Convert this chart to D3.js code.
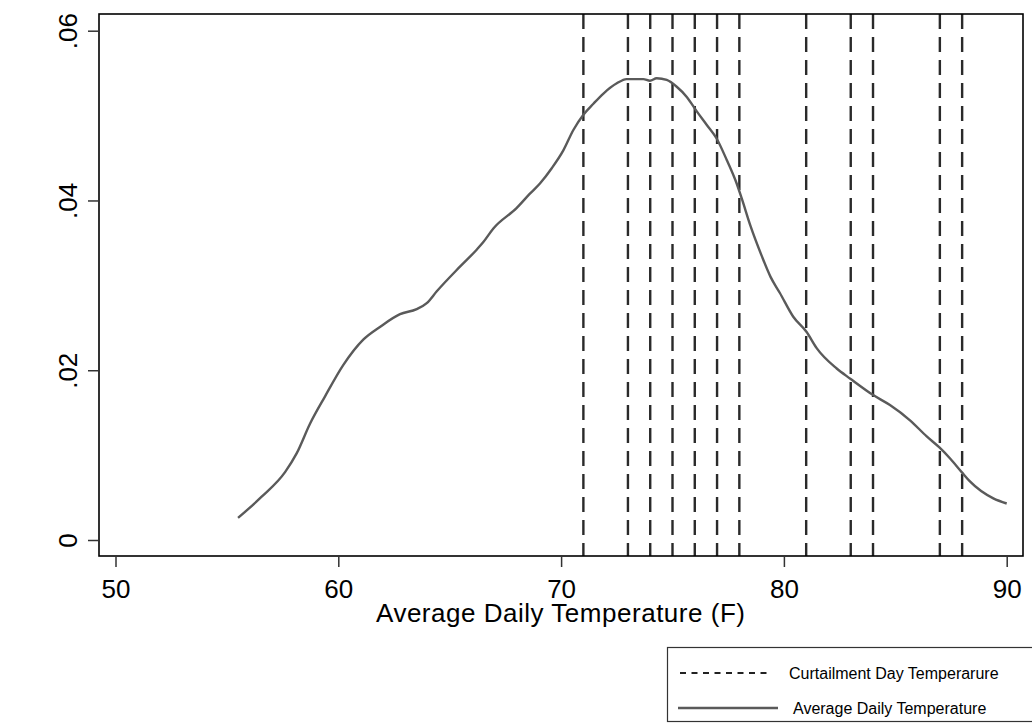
<!DOCTYPE html>
<html>
<head>
<meta charset="utf-8">
<script src="https://cdn.jsdelivr.net/npm/d3@7"></script>
<style>
  body { margin: 0; background: #fff; }
  svg { display: block; font-family: "Liberation Sans", Arial, sans-serif; }
</style>
</head>
<body>
<svg id="chart" width="1032" height="723"></svg>
<script>
// kernel density of average daily temperature
var temps = [55.5, 56.56, 57.61, 58.13, 58.73, 59.4, 60.22, 61.12, 61.87, 62.77, 63.52, 63.97, 64.42,
  65.46, 66.21, 66.51, 66.96, 68.0, 68.6, 69.05, 69.58, 70.1, 70.55, 71.0, 71.45, 71.9, 72.5, 72.94, 73.69,
  73.99, 74.29, 74.74, 75.19, 75.64, 76.09, 76.54, 76.98, 77.43, 77.88, 78.1, 78.5, 79.0, 79.4,
  79.82, 80.42, 81.02, 81.47, 82.37, 82.98, 83.99, 84.76, 85.66, 86.41, 86.98, 87.46, 87.98,
  88.35, 89.4, 90.0];
var density = [0.0026, 0.0051, 0.0080, 0.0102, 0.0137, 0.0169, 0.0206, 0.0236, 0.0251, 0.0266, 0.0272, 0.0279, 0.0293,
  0.0322, 0.0342, 0.0351, 0.0367, 0.0391, 0.0408, 0.0420, 0.0438, 0.0459, 0.0483, 0.0501, 0.0514, 0.0526, 0.0538, 0.0543, 0.0543,
  0.0541, 0.0544, 0.0542, 0.0534, 0.0522, 0.0505, 0.0489, 0.0473, 0.0448, 0.0420, 0.0403, 0.0370, 0.0335, 0.0310,
  0.0291, 0.0263, 0.0245, 0.0226, 0.0202, 0.0190, 0.0171, 0.0159, 0.0141, 0.0122, 0.0109, 0.0096, 0.0080,
  0.0069, 0.0049, 0.0043];
// curtailment day temperatures
var curtailTemps = [71, 73, 74, 75, 76, 77, 78, 81, 83, 84, 87, 88];
var xTicks = [50, 60, 70, 80, 90];
var yTicks = [0, 0.02, 0.04, 0.06];
var yTickLabels = ["0", ".02", ".04", ".06"];

var svg = d3.select("#chart");
var frame = {left: 99, right: 1023, top: 14, bottom: 556};

var x = d3.scaleLinear().domain([50, 90]).range([115.5, 1006.7]);
var y = d3.scaleLinear().domain([0, 0.06]).range([540, 30.7]);

// curtailment lines
svg.append("g").selectAll("line")
  .data(curtailTemps)
  .enter().append("line")
  .attr("x1", function (d) { return x(d); })
  .attr("x2", function (d) { return x(d); })
  .attr("y1", frame.top)
  .attr("y2", frame.bottom)
  .attr("stroke", "#2a2a2a")
  .attr("stroke-width", 2.4)
  .attr("stroke-dasharray", "15,8");

// density line
var pts = temps.map(function (t, i) { return [t, density[i]]; });
var line = d3.line()
  .x(function (d) { return x(d[0]); })
  .y(function (d) { return y(d[1]); })
  .curve(d3.curveMonotoneX);
svg.append("path")
  .datum(pts)
  .attr("d", line)
  .attr("fill", "none")
  .attr("stroke", "#5a5a5a")
  .attr("stroke-width", 2.4);

// frame
svg.append("rect")
  .attr("x", frame.left)
  .attr("y", frame.top)
  .attr("width", frame.right - frame.left)
  .attr("height", frame.bottom - frame.top)
  .attr("fill", "none")
  .attr("stroke", "#000")
  .attr("stroke-width", 1.6);

// x axis
var xAxis = svg.append("g")
  .attr("transform", "translate(0," + frame.bottom + ")")
  .call(d3.axisBottom(x).tickValues(xTicks).tickSize(11).tickSizeOuter(0));
xAxis.select(".domain").remove();
xAxis.selectAll(".tick line").attr("stroke", "#333").attr("stroke-width", 1.5);
xAxis.selectAll(".tick text")
  .attr("fill", "#000")
  .attr("y", 42)
  .attr("dy", 0)
  .style("font-size", "26px")
  .style("font-family", "Liberation Sans, Arial, sans-serif");

// y axis
var yAxis = svg.append("g")
  .attr("transform", "translate(" + frame.left + ",0)")
  .call(d3.axisLeft(y).tickValues(yTicks).tickSize(11).tickSizeOuter(0)
    .tickFormat(function (d, i) { return yTickLabels[i]; }));
yAxis.select(".domain").remove();
yAxis.selectAll(".tick line").attr("stroke", "#333").attr("stroke-width", 1.5);
yAxis.selectAll(".tick text")
  .attr("fill", "#000")
  .attr("x", 0)
  .attr("dy", 0)
  .attr("transform", "translate(-22,0) rotate(-90)")
  .attr("text-anchor", "middle")
  .style("font-size", "26px")
  .style("font-family", "Liberation Sans, Arial, sans-serif");

// x title
svg.append("text")
  .attr("x", 376)
  .attr("y", 622)
  .attr("textLength", 369)
  .attr("lengthAdjust", "spacing")
  .style("font-size", "26px")
  .text("Average Daily Temperature (F)");

// legend
var lg = svg.append("g");
lg.append("rect")
  .attr("x", 667.5).attr("y", 647.5)
  .attr("width", 372).attr("height", 74)
  .attr("fill", "#fff").attr("stroke", "#333").attr("stroke-width", 1.2);
lg.append("line")
  .attr("x1", 680).attr("x2", 768).attr("y1", 673).attr("y2", 673)
  .attr("stroke", "#222").attr("stroke-width", 2).attr("stroke-dasharray", "6,5.5");
lg.append("line")
  .attr("x1", 678).attr("x2", 778).attr("y1", 708).attr("y2", 708)
  .attr("stroke", "#5a5a5a").attr("stroke-width", 2.4);
lg.append("text")
  .attr("x", 789).attr("y", 678.5)
  .style("font-size", "16px")
  .text("Curtailment Day Temperarure");
lg.append("text")
  .attr("x", 793).attr("y", 713.5)
  .style("font-size", "16px")
  .text("Average Daily Temperature");
</script>
</body>
</html>
